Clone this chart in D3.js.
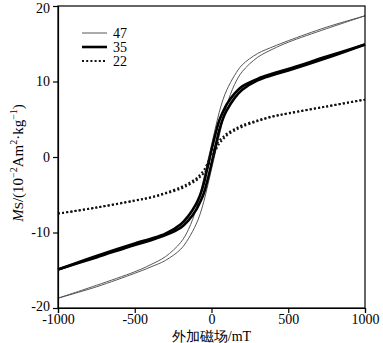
<!DOCTYPE html>
<html><head><meta charset="utf-8">
<script src="https://cdn.jsdelivr.net/npm/d3@7"></script>
<style>body{margin:0;background:#fff}svg{display:block}</style>
</head><body>
<svg id="c" width="383" height="343"></svg>
<script>
const fields = [-1000,-750,-500,-400,-300,-200,-150,-100,-75,-50,-25,0,25,50,75,100,150,200,300,400,500,750,1000];
// upper (descending-field) and lower (ascending-field) branches
const upper47 = [-18.7,-17.0,-15.2,-14.3,-13.2,-11.3,-9.6,-6.9,-5.0,-2.8,-0.6,1.6,3.8,5.9,7.6,8.9,10.8,12.2,13.7,14.6,15.4,17.2,18.7];
const lower47 = [-18.7,-17.2,-15.4,-14.6,-13.7,-12.2,-10.8,-8.9,-7.6,-5.9,-3.8,-1.6,0.6,2.8,5.0,6.9,9.6,11.3,13.2,14.3,15.2,17.0,18.7];
const upper35 = [-14.9,-13.1,-11.45,-10.85,-10.15,-8.9,-7.8,-6.2,-5.1,-3.5,-1.3,0.9,3.0,4.8,6.0,7.0,8.4,9.35,10.35,11.05,11.65,13.3,14.9];
const lower35 = [-14.9,-13.3,-11.65,-11.05,-10.35,-9.35,-8.4,-7.0,-6.0,-4.8,-3.0,-0.9,1.3,3.5,5.1,6.2,7.8,8.9,10.15,10.85,11.45,13.1,14.9];
const upper22 = [-7.5,-6.7,-5.75,-5.35,-4.75,-4.0,-3.5,-2.85,-2.35,-1.75,-0.8,0.4,1.45,2.15,2.65,3.1,3.7,4.2,4.85,5.4,5.8,6.7,7.6];
const lower22 = [-7.5,-6.7,-5.8,-5.4,-4.85,-4.2,-3.7,-3.1,-2.65,-2.15,-1.45,-0.4,0.8,1.75,2.35,2.85,3.5,4.0,4.75,5.35,5.75,6.7,7.6];
const seriesNames = ["47","35","22"];
const xTicks = [-1000,-500,0,500,1000];
const yTicks = [-20,-10,0,10,20];

const svg = d3.select("#c");
const L=58, R=365, T=6, B=308;
const x = d3.scaleLinear().domain([-1000,1000]).range([L,R]);
const y = d3.scaleLinear().domain([-20,20]).range([B,T]);
const font = "'Liberation Serif','Times New Roman',serif";

const styles = [
  {w:0.9, color:"#444", dash:null},
  {w:2.6, color:"#000", dash:null},
  {w:2.0, color:"#111", dash:"2,2.2"}
];
const data = [[upper47,lower47],[upper35,lower35],[upper22,lower22]];
const line = d3.line().x(d=>x(d[0])).y(d=>y(d[1])).curve(d3.curveCatmullRom.alpha(0.5));
data.forEach((pair,i)=>{
  pair.forEach(vals=>{
    svg.append("path")
      .attr("d", line(fields.map((h,k)=>[h,vals[k]])))
      .attr("fill","none").attr("stroke",styles[i].color)
      .attr("stroke-width",styles[i].w)
      .attr("stroke-dasharray",styles[i].dash);
  });
});

svg.append("rect").attr("x",L).attr("y",T).attr("width",R-L).attr("height",B-T)
  .attr("fill","none").attr("stroke","#000").attr("stroke-width",1.2);

const xa = svg.append("g").attr("transform",`translate(0,${B})`)
  .call(d3.axisBottom(x).tickValues(xTicks).tickSize(5).tickPadding(1).tickFormat(d3.format("d")));
const ya = svg.append("g").attr("transform",`translate(${L},0)`)
  .call(d3.axisLeft(y).tickValues(yTicks).tickSize(5).tickPadding(3).tickFormat(d3.format("d")));
[xa,ya].forEach(a=>{
  a.select(".domain").attr("stroke","#000").attr("stroke-width",1.2);
  a.selectAll(".tick line").attr("stroke","#000").attr("stroke-width",1.2);
  a.selectAll("text").attr("font-family",font).attr("font-size",14).attr("fill","#000");
});
xa.selectAll("text").text(d=>d<0?"-"+Math.abs(d):d);
ya.selectAll("text").text(d=>d<0?"-"+Math.abs(d):d);
ya.selectAll(".tick").filter(d=>d===20).select("text").attr("dy","0.45em");
ya.selectAll(".tick").filter(d=>d===-20).select("text").attr("dy","0.15em");

svg.append("text").attr("x",(L+R)/2).attr("y",341).attr("text-anchor","middle")
  .attr("font-family",font).attr("font-size",14).text("外加磁场/mT");

const yl = svg.append("text").attr("transform","translate(23,163) rotate(-90)")
  .attr("text-anchor","middle").attr("font-family",font).attr("font-size",15);
yl.append("tspan").attr("font-style","italic").text("M");
yl.append("tspan").attr("font-size",13).text("S");
yl.append("tspan").text("/(10");
yl.append("tspan").attr("font-size",10).attr("dy",-6).text("−2");
yl.append("tspan").attr("dy",6).text("Am");
yl.append("tspan").attr("font-size",10).attr("dy",-6).text("2");
yl.append("tspan").attr("dy",6).text("·kg");
yl.append("tspan").attr("font-size",10).attr("dy",-6).text("−1");
yl.append("tspan").attr("dy",6).text(")");

const legY=[33,47,61];
seriesNames.forEach((n,i)=>{
  svg.append("line").attr("x1",82).attr("x2",107).attr("y1",legY[i]).attr("y2",legY[i])
    .attr("stroke",styles[i].color).attr("stroke-width",styles[i].w)
    .attr("stroke-dasharray",styles[i].dash);
  svg.append("text").attr("x",113).attr("y",legY[i]+4.5).attr("font-family",font)
    .attr("font-size",14).text(n);
});
</script>
</body></html>
